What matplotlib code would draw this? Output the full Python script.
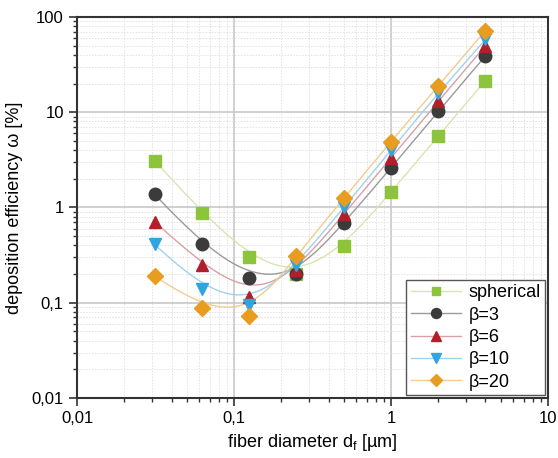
import matplotlib
matplotlib.use("Agg")
import matplotlib.pyplot as plt
import matplotlib.ticker as mticker
import numpy as np

plt.rcParams['font.family'] = ['Liberation Sans', 'DejaVu Sans']

# fiber diameter [um]
d_f = [0.03125, 0.0625, 0.125, 0.25, 0.5, 1, 2, 4]

# deposition efficiency [%]
spherical = [3.1, 0.88, 0.30, 0.20, 0.39, 1.45, 5.6, 21.5]
beta3 = [1.37, 0.41, 0.18, 0.20, 0.68, 2.6, 10.2, 39]
beta6 = [0.71, 0.25, 0.116, 0.22, 0.85, 3.3, 13.0, 50]
beta10 = [0.41, 0.14, 0.094, 0.25, 1.0, 4.0, 16.0, 58]
beta20 = [0.19, 0.089, 0.073, 0.31, 1.25, 4.9, 19.0, 72]

labels = ['spherical', 'β=3', 'β=6', 'β=10', 'β=20']
series = [spherical, beta3, beta6, beta10, beta20]
markers = ['s', 'o', '^', 'v', 'D']
mcolors = ['#8cc43c', '#3b3b3b', '#b0202a', '#2ea4e0', '#e89c20']
lcolors = ['#dde3b0', '#9a9a9a', '#d9a0a8', '#9fd2ee', '#f2cc90']
msizes = [8, 9, 9, 9, 8]


def bspline(x, y, n=300, k=3):
    # clamped cubic B-spline with the points as control points, in log-log space
    P = np.column_stack([np.log10(x), np.log10(y)])
    m = len(P)
    knots = np.concatenate([np.zeros(k), np.arange(m - k + 1), np.full(k, m - k)]).astype(float)
    ts = np.linspace(0, m - k, n)
    ts[-1] -= 1e-9

    def basis(i, p, t):
        if p == 0:
            return 1.0 if knots[i] <= t < knots[i + 1] else 0.0
        a = 0.0
        if knots[i + p] != knots[i]:
            a = (t - knots[i]) / (knots[i + p] - knots[i]) * basis(i, p - 1, t)
        b = 0.0
        if knots[i + p + 1] != knots[i + 1]:
            b = (knots[i + p + 1] - t) / (knots[i + p + 1] - knots[i + 1]) * basis(i + 1, p - 1, t)
        return a + b

    out = np.array([sum(basis(i, k, t) * P[i] for i in range(m)) for t in ts])
    return 10 ** out[:, 0], 10 ** out[:, 1]


fig = plt.figure(figsize=(5.58, 4.58), dpi=100)
ax = fig.add_axes([0.138, 0.131, 0.844, 0.832])

handles = []
for y, lab, m, mc, lc, ms in zip(series, labels, markers, mcolors, lcolors, msizes):
    xs, ys = bspline(d_f, y)
    ax.plot(xs, ys, color=lc, lw=1.0, zorder=2)
    ax.plot(d_f, y, ls='none', marker=m, color=mc, ms=ms, mec=mc, zorder=3)
    h, = ax.plot([], [], color=lc, lw=1.0, marker=m, mfc=mc, mec=mc, ms=ms, label=lab)
    handles.append(h)

ax.set_xscale('log')
ax.set_yscale('log')
ax.set_xlim(0.01, 10)
ax.set_ylim(0.01, 100)

fmt = mticker.FuncFormatter(lambda v, p: ('%g' % v).replace('.', ','))
ax.xaxis.set_major_formatter(fmt)
ax.yaxis.set_major_formatter(fmt)
ax.xaxis.set_major_locator(mticker.LogLocator(base=10, numticks=10))
ax.yaxis.set_major_locator(mticker.LogLocator(base=10, numticks=10))
ax.xaxis.set_minor_locator(mticker.LogLocator(base=10, subs=np.arange(2, 10), numticks=20))
ax.yaxis.set_minor_locator(mticker.LogLocator(base=10, subs=np.arange(2, 10), numticks=20))
ax.xaxis.set_minor_formatter(mticker.NullFormatter())
ax.yaxis.set_minor_formatter(mticker.NullFormatter())

ax.grid(which='major', color='#c8c8c8', lw=1.2, zorder=0)
ax.grid(which='minor', color='#e2e2e2', lw=0.7, ls=(0, (1.5, 1.5)), zorder=0)
ax.set_axisbelow(True)

ax.tick_params(which='major', direction='out', length=6, width=1.2, labelsize=12, color='#333333')
ax.tick_params(which='minor', direction='out', length=3, width=1.0, color='#333333')
for s in ax.spines.values():
    s.set_linewidth(1.5)
    s.set_color('#333333')

ax.set_xlabel('fiber diameter d$_\\mathregular{f}$ [µm]', fontsize=13, labelpad=4)
ax.set_ylabel('deposition efficiency ω [%]', fontsize=13, labelpad=6)

leg = ax.legend(handles=handles, loc='lower right', fontsize=13, frameon=True,
                fancybox=False, edgecolor='#555555', framealpha=1,
                borderaxespad=0.15, handlelength=2.8, handletextpad=0.4,
                labelspacing=0.3, borderpad=0.25, markerscale=0.8)
leg.get_frame().set_linewidth(1.0)

fig.savefig('out.png', dpi=100)
